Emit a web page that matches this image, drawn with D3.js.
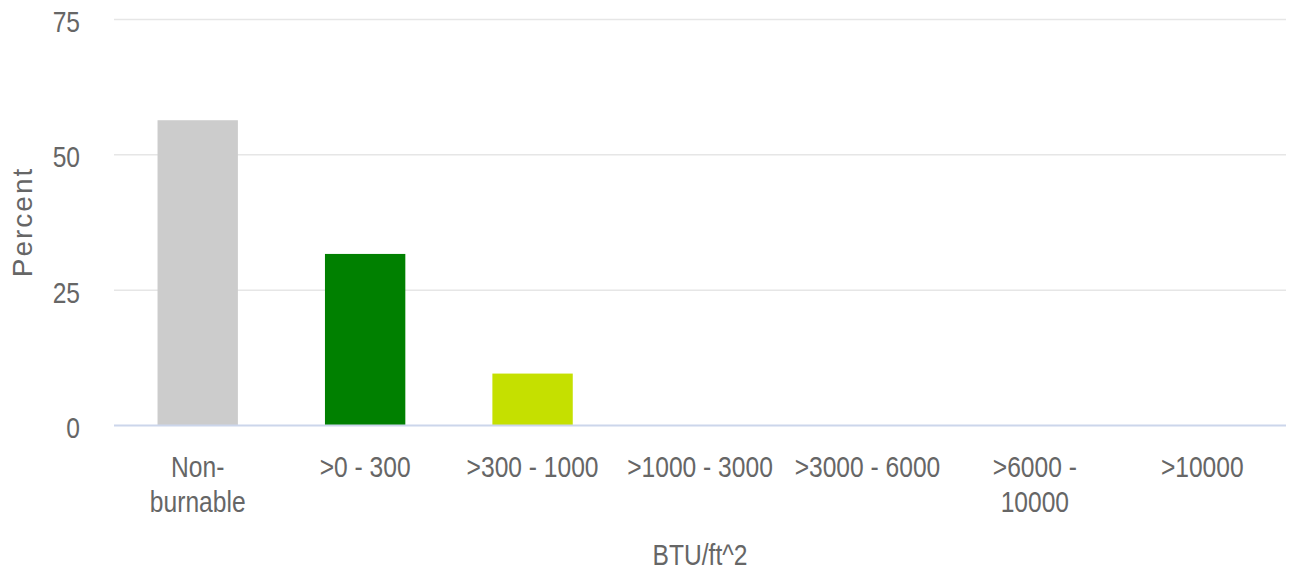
<!DOCTYPE html>
<html>
<head>
<meta charset="utf-8">
<script src="https://cdn.jsdelivr.net/npm/d3@7"></script>
<style>
  html, body { margin: 0; padding: 0; background: #ffffff; }
  svg { display: block; }
  text { font-family: "Liberation Sans", Arial, sans-serif; }
</style>
</head>
<body>
<svg id="chart" width="1299" height="574"></svg>
<script>
// Fireline intensity classes (BTU/ft^2) and share of area in each class
const categories = ["Non-burnable", ">0 - 300", ">300 - 1000", ">1000 - 3000", ">3000 - 6000", ">6000 - 10000", ">10000"];
const tickLines = [["Non-", "burnable"], [">0 - 300"], [">300 - 1000"], [">1000 - 3000"], [">3000 - 6000"], [">6000 -", "10000"], [">10000"]];
const percentValues = [56.3, 31.6, 9.5, 0, 0, 0, 0];
const barColors = ["#cccccc", "#008000", "#c5e000", "#ff9900", "#ff3300", "#cc0000", "#800000"];
const yTicks = [0, 25, 50, 75];
const yTitle = "Percent";
const xTitle = "BTU/ft^2";

const W = 1299, H = 574;
const margin = { top: 19, right: 13, bottom: 149, left: 114 };
const innerW = W - margin.left - margin.right;
const innerH = H - margin.top - margin.bottom;
const narrow = 0.82;          // horizontal squeeze for condensed labels
const labelColor = "#666666";

const svg = d3.select("#chart");
const g = svg.append("g").attr("transform", `translate(${margin.left},${margin.top})`);

const x = d3.scaleBand().domain(categories).range([0, innerW]).paddingInner(0.52).paddingOuter(0.26);
const y = d3.scaleLinear().domain([0, 75]).range([innerH, 0]);

// horizontal grid lines
g.append("g")
  .selectAll("line")
  .data(yTicks.filter(d => d !== 0))
  .join("line")
  .attr("x1", 0).attr("x2", innerW)
  .attr("y1", d => y(d) + 0.5).attr("y2", d => y(d) + 0.5)
  .attr("stroke", "#e6e6e6").attr("stroke-width", 1.5);

// bars
g.append("g")
  .selectAll("rect")
  .data(categories.map((c, i) => ({ c, v: percentValues[i], col: barColors[i] })))
  .join("rect")
  .attr("x", d => x(d.c))
  .attr("width", x.bandwidth())
  .attr("y", d => y(d.v))
  .attr("height", d => innerH - y(d.v))
  .attr("fill", d => d.col);

// baseline
g.append("line")
  .attr("x1", 0).attr("x2", innerW)
  .attr("y1", innerH + 0.5).attr("y2", innerH + 0.5)
  .attr("stroke", "#ccd6eb").attr("stroke-width", 2);

// y axis labels
const yAxis = d3.axisLeft(y).tickValues(yTicks).tickSize(0).tickPadding(34);
const yg = g.append("g").call(yAxis);
yg.select(".domain").remove();
yg.selectAll("text")
  .attr("fill", labelColor)
  .attr("font-size", 30)
  .attr("font-family", null)
  .attr("x", -34 / narrow)
  .attr("dy", "0.42em")
  .attr("transform", `scale(${narrow},1)`);

// x axis labels, wrapped onto separate lines
const xAxis = d3.axisBottom(x).tickSize(0).tickPadding(0).tickFormat(() => "");
const xg = g.append("g").attr("transform", `translate(0,${innerH})`).call(xAxis);
xg.select(".domain").remove();
xg.selectAll(".tick text").remove();
xg.selectAll(".tick")
  .append("text")
  .attr("fill", labelColor)
  .attr("font-size", 30)
  .attr("text-anchor", "middle")
  .attr("transform", `scale(${narrow},1)`)
  .attr("y", 52)
  .each(function(d) {
    const lines = tickLines[categories.indexOf(d)];
    d3.select(this).selectAll("tspan")
      .data(lines)
      .join("tspan")
      .attr("x", 0)
      .attr("dy", (l, i) => i === 0 ? 0 : 35)
      .text(l => l);
  });

// axis titles
svg.append("text")
  .attr("transform", `translate(${margin.left + innerW / 2},565) scale(${narrow},1)`)
  .attr("text-anchor", "middle")
  .attr("fill", labelColor)
  .attr("font-size", 30)
  .text(xTitle);

svg.append("text")
  .attr("transform", `translate(32,${margin.top + innerH / 2}) rotate(-90)`)
  .attr("text-anchor", "middle")
  .attr("fill", labelColor)
  .attr("font-size", 28)
  .attr("letter-spacing", 2)
  .text(yTitle);
</script>
</body>
</html>
